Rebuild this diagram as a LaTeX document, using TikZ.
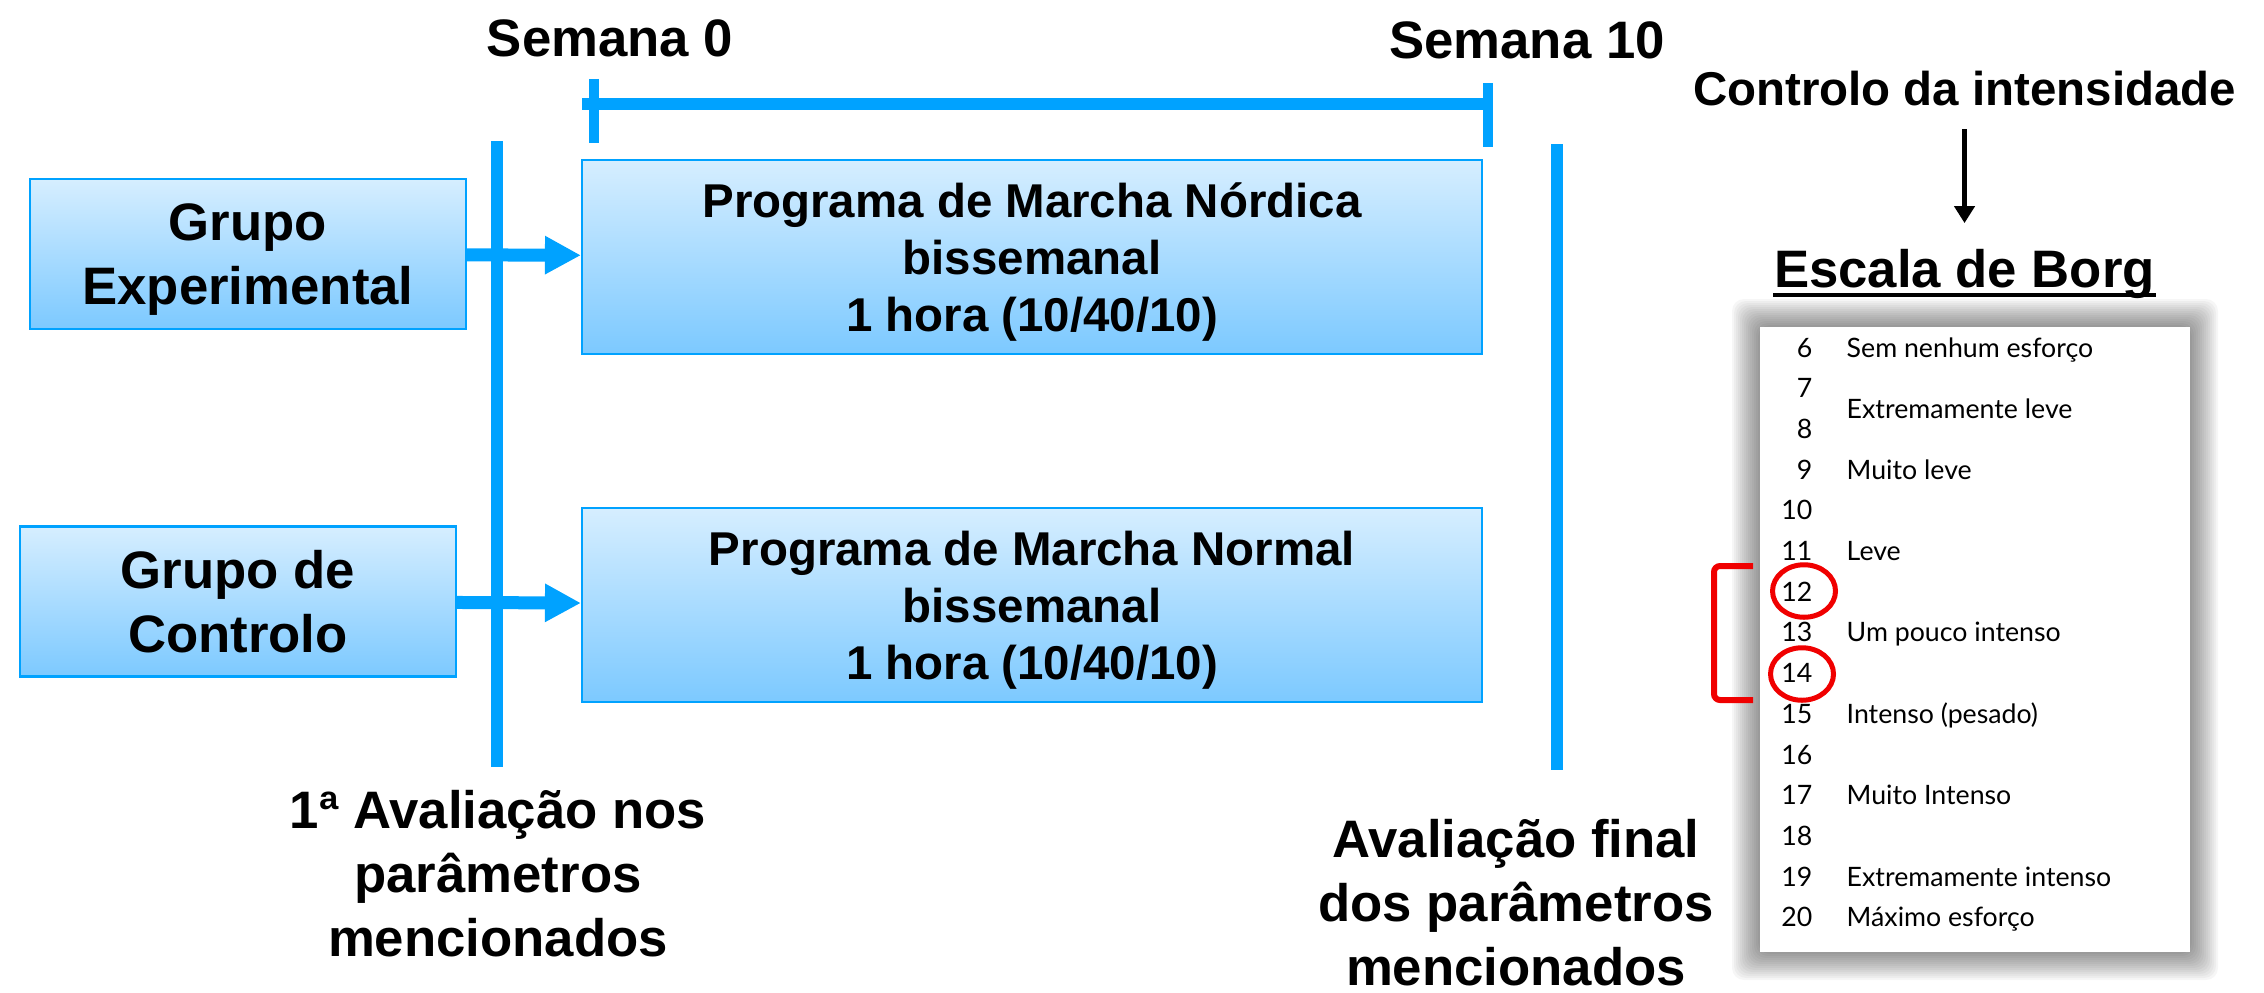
\documentclass[tikz,border=0pt]{standalone}
\usepackage{fontspec}
\setmainfont{Liberation Sans}
\newfontfamily\borgfont{Lato}
\usetikzlibrary{arrows.meta,shapes.geometric}
\definecolor{lineblue}{RGB}{0,162,255}
\definecolor{boxtop}{RGB}{214,238,255}
\definecolor{boxbot}{RGB}{124,201,255}
\definecolor{markred}{RGB}{240,0,0}
\newcommand{\bigtxt}{\fontsize{15}{18.2}\selectfont\bfseries}
\newcommand{\progtxt}{\fontsize{13.5}{16.2}\selectfont\bfseries}
\newcommand{\borgtxt}{\borgfont\fontsize{7.6}{8}\selectfont}

\begin{document}
\begin{tikzpicture}[
		bluebox/.style={draw=lineblue, line width=0.6pt, top color=boxtop, bottom color=boxbot, align=center, inner sep=0pt, text depth=0pt},
		grpbox/.style={bluebox, minimum width=4.36cm, minimum height=1.50cm, font=\bigtxt},
		progbox/.style={bluebox, minimum width=9.00cm, minimum height=1.94cm, font=\progtxt},
		bigtext/.style={font=\bigtxt, align=center, inner sep=0pt},
		blueline/.style={lineblue, line width=0.12cm},
		tickmark/.style={lineblue, line width=0.105cm},
		bluearrow/.style={lineblue, line width=0.13cm, -{Triangle[length=0.36cm, width=0.36cm]}},
		borgnum/.style={font=\borgtxt, anchor=base east, inner sep=0pt},
		borglab/.style={font=\borgtxt, anchor=base west, inner sep=0pt},
		redring/.style={draw=markred, line width=0.05cm, ellipse, minimum width=0.63cm, minimum height=0.525cm, inner sep=0pt}
	]
				\useasboundingbox (0,0) rectangle (22.64,9.92);
				\node[bigtext, anchor=base] (wk0lab)at(6.10, 9.35) {Semana 0};
				\node[bigtext, anchor=base] (wk10lab)at(15.27, 9.34) {Semana 10};
				\coordinate (wk0) at (5.94, 8.88);
				\coordinate (wk10) at (14.88, 8.88);
				\draw[blueline] ([xshift=-0.12cm]wk0) -- (wk10);
				\draw[tickmark] ([yshift=0.25cm]wk0) -- ([yshift=-0.39cm]wk0);
				\draw[tickmark] ([yshift=0.21cm]wk10) -- ([yshift=-0.43cm]wk10);
				\coordinate (ev0top) at (4.97, 8.51);
				\coordinate (ev0bot) at (4.97, 2.25);
				\coordinate (evftop) at (15.57, 8.48);
				\coordinate (evfbot) at (15.57, 2.22);
				\draw[blueline] (ev0top) -- (ev0bot);
				\draw[blueline] (evftop) -- (evfbot);
				\node[grpbox] (grpexp)at(2.48, 7.38) {Grupo\\Experimental};
				\node[grpbox] (grpctl)at(2.38, 3.905) {Grupo de\\Controlo};
				\node[progbox] (prognord)at(10.32, 7.35) {Programa de Marcha Nórdica\\bissemanal\\1 hora (10/40/10)};
				\node[progbox] (prognorm)at(10.32, 3.87) {Programa de Marcha Normal\\bissemanal\\1 hora (10/40/10)};
				\draw[bluearrow] (grpexp) -- (prognord);
				\draw[bluearrow] (grpctl) -- (prognorm);
				\node[bigtext, anchor=north] (ev0lab)at(4.98, 2.02) {1ª Avaliação nos\\parâmetros\\mencionados};
				\node[bigtext, anchor=north] (evflab)at(15.16, 1.73) {Avaliação final\\dos parâmetros\\mencionados};
				\node[font=\progtxt, anchor=base, inner sep=0pt] (ctrl)at(19.645, 8.86) {Controlo da intensidade};
				\node[bigtext, anchor=base] (borgtitle)at(19.645, 7.05) {Escala de Borg};
				\draw[line width=1.2pt, -{Triangle[length=0.17cm, width=0.2cm]}, shorten <=0.22cm, shorten >=0.25cm] (ctrl) -- (borgtitle);
				\draw[line width=1.3pt] ([yshift=-0.08cm]borgtitle.base west) -- ([yshift=-0.08cm]borgtitle.base east);
				\foreach \d in {0.02,0.04,...,0.28}
					\fill[black, opacity=0.035, rounded corners=0.12cm] ({17.60-\d},{6.65+\d}) rectangle ({21.90+\d},{0.40-\d});
				\node[fill=white, minimum width=4.30cm, minimum height=6.25cm, inner sep=0pt] (borg)at(19.75, 3.525) {};
				\foreach \n in {6,...,20}
					\node[borgnum] (num\n)at(18.13, {(635-(\n-6)*40.7)/100}) {\n};
				\foreach \r/\txt [count=\i] in {6/Sem nenhum esforço, 7.5/Extremamente leve, 9/Muito leve, 11/Leve, 13/Um pouco intenso, 15/Intenso (pesado), 17/Muito Intenso, 19/Extremamente intenso, 20/Máximo esforço}
					\node[borglab] (lab\i)at(18.46, {(635-(\r-6)*40.7)/100}) {\txt};
				\node[redring] (ring12)at(18.04, 4.01) {};
				\node[redring] (ring14)at(18.02, 3.18) {};
				\draw[markred, line width=0.06cm, rounded corners=0.06cm] (17.53, 4.26) -- (17.14, 4.26) -- (17.14, 2.92) -- (17.53, 2.92);
			\end{tikzpicture}
\end{document}
